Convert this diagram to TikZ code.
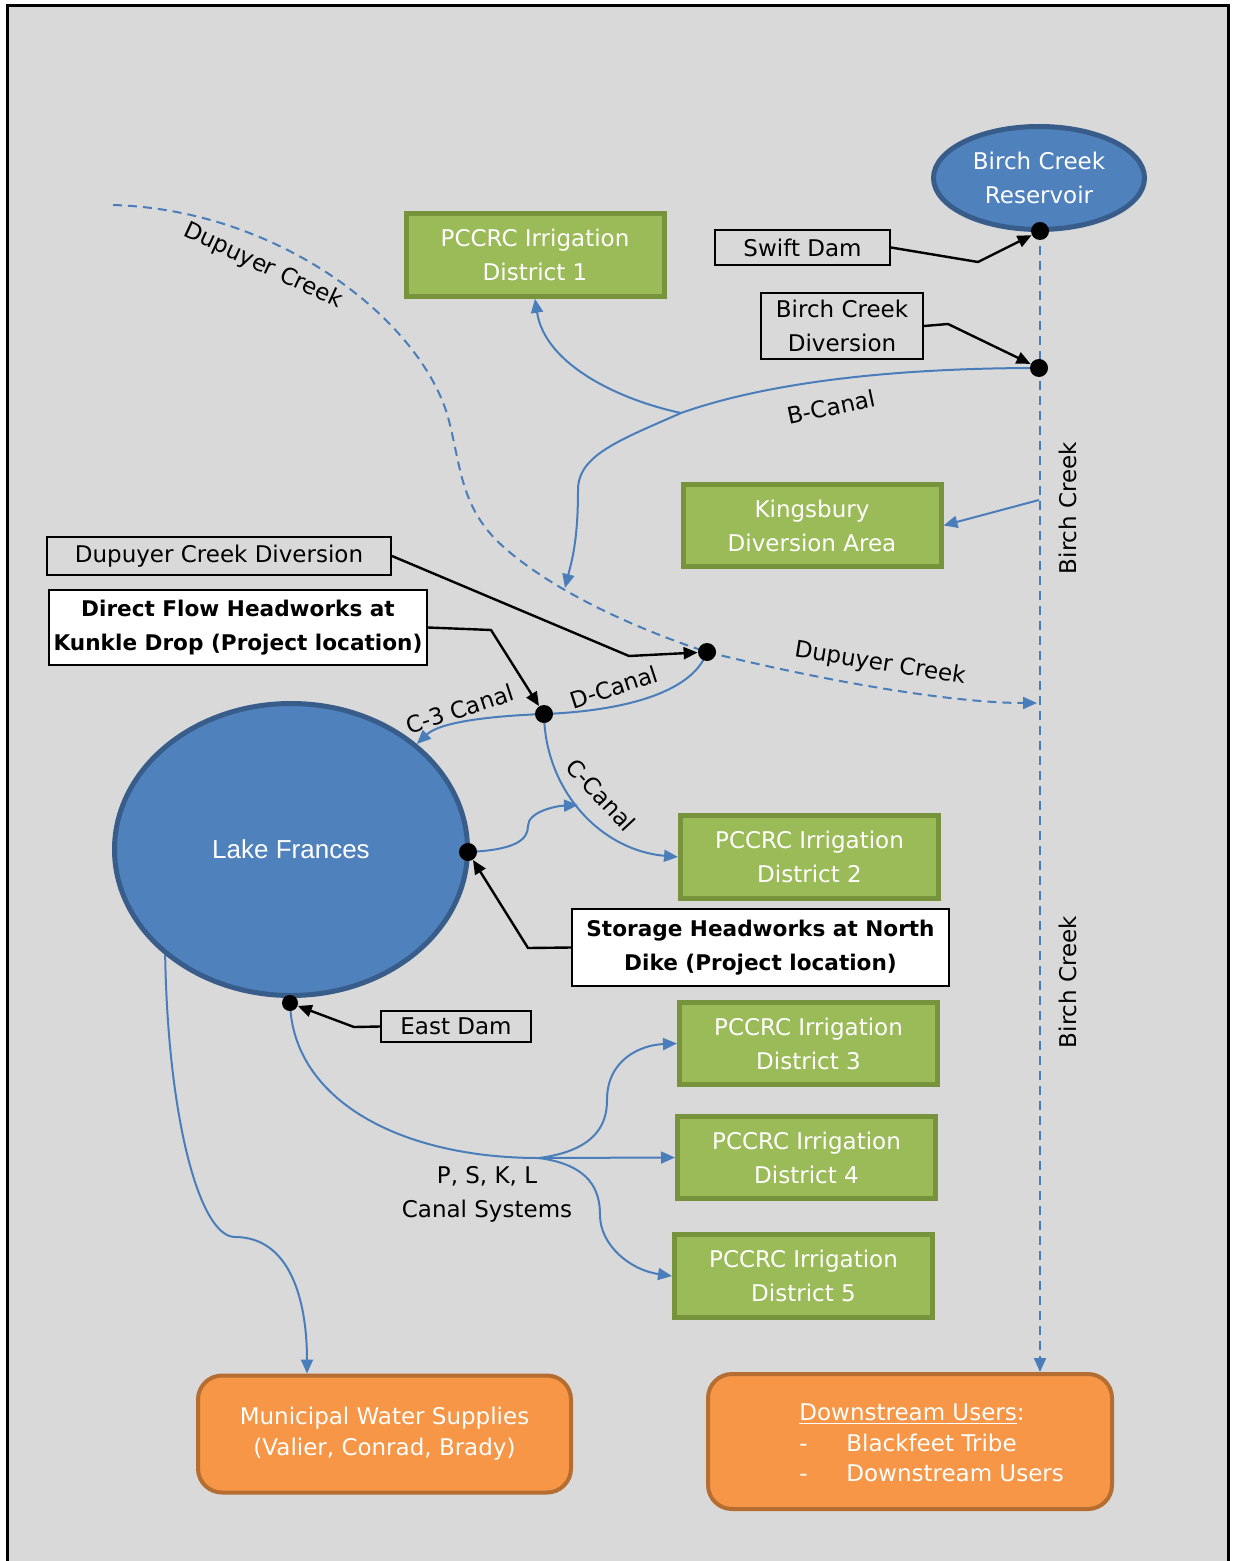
\documentclass[tikz,border=0pt]{standalone}
\usepackage{fontspec}
\setmainfont{DejaVu Sans}
\newfontfamily\arialf{Liberation Sans}
\usetikzlibrary{shapes.geometric,arrows.meta,calc}
\definecolor{bgc}{HTML}{D9D9D9}
\definecolor{bluef}{HTML}{4F81BD}
\definecolor{blueb}{HTML}{385D8A}
\definecolor{greenf}{HTML}{9BBB59}
\definecolor{greenb}{HTML}{77933C}
\definecolor{orangef}{HTML}{F79646}
\definecolor{orangeb}{HTML}{B66D31}
\definecolor{flowc}{HTML}{4A7EBB}
\pgfdeclarelayer{back}
\pgfdeclarelayer{lines}
\pgfsetlayers{back,lines,main}
\tikzset{
  txt/.style={font=\fontsize{11.5}{17}\selectfont, align=center},
  greenbox/.style={txt, draw=greenb, fill=greenf, line width=2.5pt, text=white,
    minimum width=129pt, minimum height=41.25pt, inner sep=0pt},
  callout/.style={txt, draw=black, fill=bgc, line width=1pt, inner sep=0pt},
  boldbox/.style={callout, fill=white, font=\fontsize{10.8}{17}\selectfont\bfseries},
  orangebox/.style={txt, draw=orangeb, fill=orangef, line width=2pt,
    rounded corners=12pt, text=white, inner sep=0pt},
  lakeshape/.style={txt, ellipse, draw=blueb, fill=bluef, line width=2.5pt, text=white, inner sep=0pt},
  flow/.style={draw=flowc, line width=1pt},
  flowarr/.style={flow, -{Triangle[length=7pt,width=6pt]}},
  creek/.style={flow, dash pattern=on 4.5pt off 3pt},
  pointer/.style={draw=black, line width=1.2pt, -{Triangle[length=7pt,width=6pt]}},
  dotn/.style={circle, fill=black, minimum size=9pt, inner sep=0pt},
  lab/.style={txt, inner sep=0pt},
}
\begin{document}
\begin{tikzpicture}[x=0.5pt,y=-0.5pt]
\useasboundingbox (0,0) rectangle (1232,1561);
\begin{pgfonlayer}{back}
  \fill[bgc] (7,6) rectangle (1228,1561);
  \draw[black, line width=1.5pt] (7,1561) -- (7,6) -- (1228,6) -- (1228,1561);
\end{pgfonlayer}

% ellipses
\node[lakeshape, minimum width=105.5pt, minimum height=51.5pt] (bcr) at (1039,178) {Birch Creek\\Reservoir};
\node[lakeshape, minimum width=176.5pt, minimum height=146pt, font=\arialf\fontsize{13}{17}\selectfont] (lake) at (291,849.5) {Lake Frances};

% green boxes
\node[greenbox] (d1) at (535,255) {PCCRC Irrigation\\District 1};
\node[greenbox] (kb) at (812,525.5) {Kingsbury\\Diversion Area};
\node[greenbox] (d2) at (809.5,857) {PCCRC Irrigation\\District 2};
\node[greenbox] (d3) at (808.5,1043.5) {PCCRC Irrigation\\District 3};
\node[greenbox] (d4) at (806.5,1157.5) {PCCRC Irrigation\\District 4};
\node[greenbox] (d5) at (803.5,1276) {PCCRC Irrigation\\District 5};

% callouts
\node[callout, minimum width=87.5pt, minimum height=17.5pt] (sw) at (802.5,247.5) {Swift Dam};
\node[callout, minimum width=81pt, minimum height=33pt] (bcdbox) at (842,326) {Birch Creek\\Diversion};
\node[callout, minimum width=172pt, minimum height=19pt] (dcdbox) at (219,556) {Dupuyer Creek Diversion};
\node[callout, minimum width=75pt, minimum height=15.5pt] (edbox) at (456,1026.5) {East Dam};
\node[boldbox, minimum width=189pt, minimum height=37.5pt] (dfh) at (238,627.5) {Direct Flow Headworks at\\Kunkle Drop (Project location)};
\node[boldbox, minimum width=188.5pt, minimum height=38.5pt] (sth) at (760.5,947.5) {Storage Headworks at North\\Dike (Project location)};

% orange boxes
\node[orangebox, minimum width=186.5pt, minimum height=58.5pt, font=\fontsize{11.5}{15.5}\selectfont] (mun) at (384.5,1434) {Municipal Water Supplies\\(Valier, Conrad, Brady)};
\node[orangebox, minimum width=202pt, minimum height=67.5pt] (ds) at (910,1441.5) {};
\node[txt, text=white, align=left, anchor=west, inner sep=0pt, font=\fontsize{11.5}{15.25}\selectfont] (dsText) at (799,1443)
  {\underline{Downstream Users}:\\\makebox[23.5pt][l]{-}Blackfeet Tribe\\\makebox[23.5pt][l]{-}Downstream Users};

% dots
\node[dotn] (swd) at (1040,231) {};
\node[dotn] (bcd) at (1039,368) {};
\node[dotn] (dcd) at (707,652) {};
\node[dotn] (kd) at (544,714) {};
\node[dotn] (nd) at (468,852) {};
\node[dotn, minimum size=8pt] (ed) at (290,1003) {};

% labels
\node[lab, rotate=-25] (lDup1) at (263,266) {Dupuyer Creek};
\node[lab, rotate=-9] (lDup2) at (880,664) {Dupuyer Creek};
\node[lab, rotate=12] (lB) at (831,407) {B-Canal};
\node[lab, rotate=18] (lC3) at (460,709) {C-3 Canal};
\node[lab, rotate=18] (lD) at (614,687) {D-Canal};
\node[lab, rotate=-47] (lC) at (601,795) {C-Canal};
\node[lab, rotate=90] (lBC1) at (1068,508) {Birch Creek};
\node[lab, rotate=90] (lBC2) at (1068,982) {Birch Creek};
\node[lab] (lPSKL) at (487,1194) {P, S, K, L\\Canal Systems};

% coordinates
\coordinate (dupStart) at (113,205);
\coordinate (dupEnd) at (1037,703);
\coordinate (kbsrc) at (1039,500);
\coordinate (jB) at (681,413);
\coordinate (dupArrow) at (565,588);
\coordinate (cTip) at (578,805);
\coordinate (jE) at (539,1158);

\begin{pgfonlayer}{lines}
  % creeks
  \draw[creek, -{Triangle[length=7pt,width=6pt]}] (swd.center) -- (swd |- ds.north);
  \draw[creek] (dupStart) .. controls (280,210) and (420,320) .. (448,417)
     .. controls (462,470) and (460,510) .. (507,550)
     .. controls (560,595) and (640,630) .. (dcd.center);
  \draw[creek, -{Triangle[length=7pt,width=6pt]}] (dcd.center) .. controls (820,680) and (950,703) .. (dupEnd);
  % flows
  \draw[flowarr] (kbsrc) -- (kb.east);
  \draw[flow] (bcd.center) .. controls (880,368) and (760,385) .. (jB);
  \draw[flowarr] (jB) .. controls (620,440) and (578,455) .. (578,490)
     .. controls (578,540) and (572,560) .. (dupArrow);
  \draw[flowarr] (jB) .. controls (620,400) and (545,365) .. (d1.south);
  \draw[flow] (dcd.center) .. controls (690,700) and (600,712) .. (kd.center);
  \draw[flowarr] (kd.center) .. controls (490,716) and (440,722) .. (lake.40);
  \draw[flowarr] (kd.center) .. controls (545,790) and (600,850) .. (d2.west);
  \draw[flowarr] (nd.center) .. controls (515,850) and (528,840) .. (528,826)
     .. controls (528,812) and (555,806) .. (cTip);
  \draw[flow] (ed.center) .. controls (293,1100) and (400,1158) .. (jE);
  \draw[flowarr] (jE) -- (d4.west);
  \draw[flowarr] (jE) .. controls (600,1150) and (607,1120) .. (607,1100)
     .. controls (607,1060) and (640,1045) .. (d3.west);
  \draw[flowarr] (jE) .. controls (590,1165) and (600,1190) .. (600,1215)
     .. controls (600,1245) and (630,1270) .. (d5.west);
  \draw[flowarr] (lake.220) .. controls (168,1120) and (200,1237) .. (235,1237)
     .. controls (290,1237) and (307,1300) .. ([xshift=-38.75pt]mun.north);
  % pointers
  \draw[pointer] (sw.east) -- (978,262) -- (swd);
  \draw[pointer] (bcdbox.east) -- (948,324) -- (bcd);
  \draw[pointer] (dcdbox.east) -- (629,656) -- (dcd);
  \draw[pointer] (dfh.east) -- (491,630) -- (kd);
  \draw[pointer] (sth.west) -- (528,948) -- (nd);
  \draw[pointer] (edbox.west) -- (354,1027) -- (ed);
\end{pgfonlayer}
\end{tikzpicture}
\end{document}
